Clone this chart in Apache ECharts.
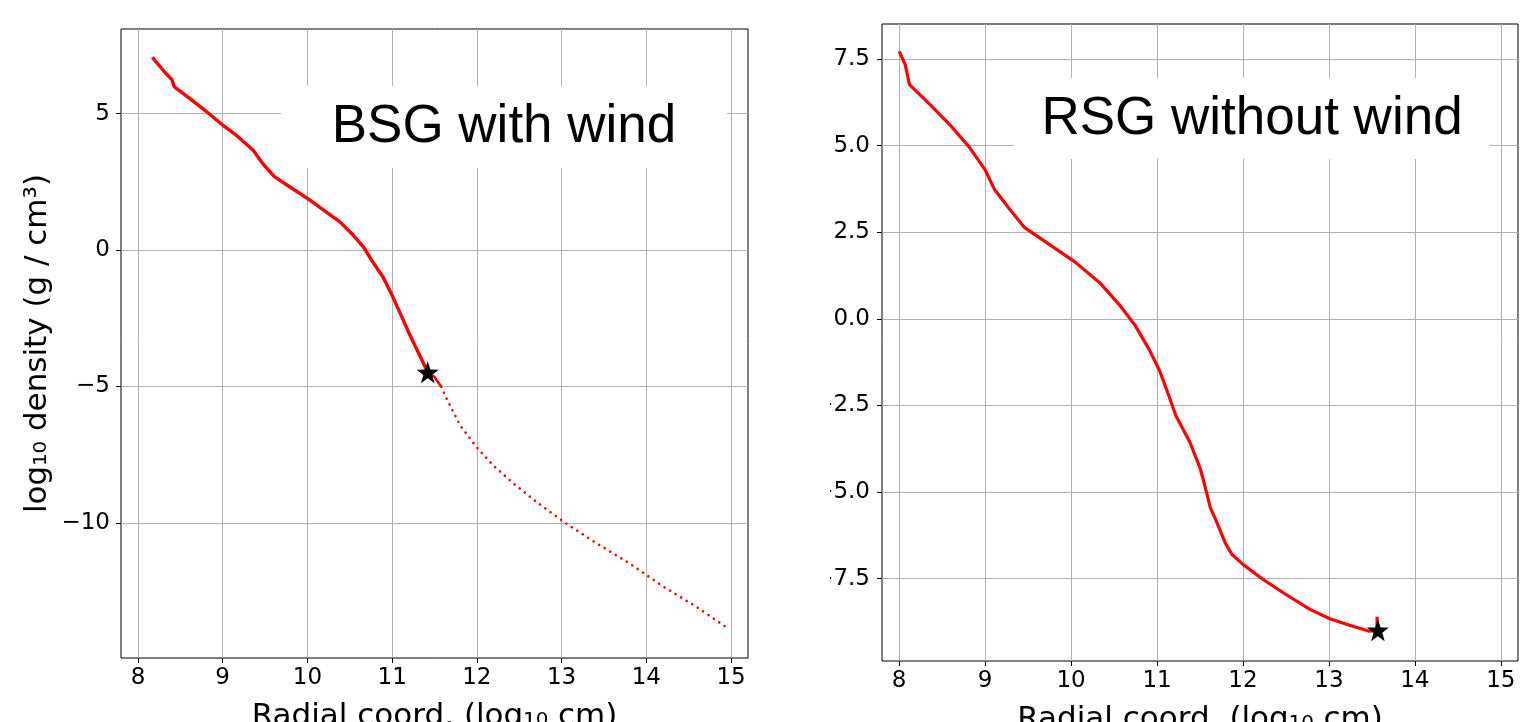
<!DOCTYPE html>
<html>
<head>
<meta charset="utf-8">
<script src="https://cdn.jsdelivr.net/npm/echarts@6/dist/echarts.min.js"></script>
<style>
  html, body { margin: 0; padding: 0; background: #fff; }
  #chart { width: 1521px; height: 722px; }
</style>
</head>
<body>
<div id="chart"></div>
<script>
// BSG with wind: stellar part (solid) and wind part (dotted)
var bsgX = [8.17, 8.33, 8.40, 8.43, 8.61, 8.81, 9.00, 9.16, 9.36, 9.47, 9.61, 9.79, 10.03, 10.22, 10.38, 10.54, 10.66, 10.77, 10.89, 10.99, 11.10, 11.20, 11.30, 11.42]
var bsgY = [7.06, 6.47, 6.25, 5.98, 5.56, 5.07, 4.58, 4.21, 3.66, 3.18, 2.69, 2.32, 1.83, 1.40, 1.04, 0.55, 0.12, -0.43, -0.98, -1.59, -2.35, -3.05, -3.70, -4.48]
var windX = [11.42, 11.50, 11.58, 11.64, 11.70, 11.80, 11.99, 12.19, 12.43, 12.70, 13.02, 13.41, 13.80, 14.20, 14.59, 14.98]
var windY = [-4.48, -4.65, -5.01, -5.43, -5.80, -6.41, -7.20, -7.88, -8.55, -9.22, -9.95, -10.74, -11.48, -12.33, -13.07, -13.90]
var bsgStar = [11.42, -4.48]

// RSG without wind
var rsgX = [8.00, 8.07, 8.12, 8.36, 8.59, 8.82, 9.00, 9.11, 9.29, 9.46, 9.75, 10.04, 10.33, 10.56, 10.74, 10.91, 11.03, 11.12, 11.22, 11.38, 11.50, 11.56, 11.62, 11.69, 11.79, 11.87, 12.00, 12.23, 12.50, 12.78, 13.01, 13.24, 13.47, 13.56, 13.56]
var rsgY = [7.72, 7.34, 6.76, 6.18, 5.60, 4.94, 4.30, 3.73, 3.15, 2.63, 2.14, 1.65, 1.05, 0.41, -0.17, -0.89, -1.50, -2.10, -2.80, -3.55, -4.30, -4.85, -5.45, -5.84, -6.45, -6.80, -7.09, -7.52, -7.96, -8.39, -8.66, -8.85, -9.02, -9.00, -8.60]
var rsgStar = [13.57, -8.99]

// tick values
var xTicks = [8, 9, 10, 11, 12, 13, 14, 15]
var leftYTicks = [-10, -5, 0, 5]
var rightYTicks = [-7.5, -5, -2.5, 0, 2.5, 5, 7.5]

function pairs (xs, ys) {
  return xs.map(function (x, i) { return [x, ys[i]] })
}
function minus (s) { return s.replace('-', '\u2212') }

var starPath = 'path://M0,-10L2.35,-3.24L9.51,-3.09L3.8,1.24L5.88,8.09L0,4L-5.88,8.09L-3.8,1.24L-9.51,-3.09L-2.35,-3.24Z'
var tickFont = { fontFamily: 'DejaVu Sans', fontSize: 23, color: '#000' }
var nameFont = { fontFamily: 'DejaVu Sans', fontSize: 31, color: '#000' }
var grey = { color: '#b0b0b0', width: 1 }

function xAxisOf (idx) {
  return {
    gridIndex: idx,
    type: 'value',
    min: 7.8,
    max: 15.2,
    name: 'Radial coord. (log\u2081\u2080 cm)',
    nameLocation: 'middle',
    nameGap: 43,
    nameTextStyle: nameFont,
    axisLine: { show: false, onZero: false },
    axisTick: { show: true, length: 5, customValues: xTicks, lineStyle: { color: '#000' } },
    axisLabel: Object.assign({ margin: 9, customValues: xTicks, formatter: function (v) { return String(v) } }, tickFont),
    splitLine: { show: true, lineStyle: grey }
  }
}

var myChart = echarts.init(document.getElementById('chart'))
myChart.setOption({
  animation: false,
  backgroundColor: '#fff',
  grid: [
    { left: 121, top: 29, width: 627, height: 629, show: true, borderColor: '#000', borderWidth: 1, containLabel: false, outerBoundsMode: 'none' },
    { left: 882, top: 24, width: 636, height: 637, show: true, borderColor: '#000', borderWidth: 1, containLabel: false, outerBoundsMode: 'none' }
  ],
  xAxis: [xAxisOf(0), xAxisOf(1)],
  yAxis: [
    {
      gridIndex: 0,
      type: 'value',
      min: -14.95,
      max: 8.1,
      name: 'log\u2081\u2080 density (g / cm\u00b3)',
      nameLocation: 'middle',
      nameRotate: 90,
      nameGap: 68,
      nameTextStyle: nameFont,
      axisLine: { show: false, onZero: false },
      axisTick: { show: true, length: 5, customValues: leftYTicks, lineStyle: { color: '#000' } },
      axisLabel: Object.assign({ margin: 11, customValues: leftYTicks, formatter: function (v) { return minus(String(v)) } }, tickFont),
      splitLine: { show: true, lineStyle: grey }
    },
    {
      gridIndex: 1,
      type: 'value',
      min: -9.88,
      max: 8.51,
      axisLine: { show: false, onZero: false },
      axisTick: { show: true, length: 5, customValues: rightYTicks, lineStyle: { color: '#000' } },
      axisLabel: Object.assign({ margin: 12, customValues: rightYTicks, formatter: function (v) { return minus(v.toFixed(1)) } }, tickFont),
      splitLine: { show: true, lineStyle: grey }
    }
  ],
  series: [
    {
      type: 'line', xAxisIndex: 0, yAxisIndex: 0, showSymbol: false,
      data: pairs(bsgX, bsgY),
      lineStyle: { color: '#ff0000', width: 3.4 }
    },
    {
      type: 'line', xAxisIndex: 0, yAxisIndex: 0, showSymbol: false,
      data: pairs(windX.slice(0, 3), windY.slice(0, 3)),
      lineStyle: { color: '#ff0000', width: 2.6 }
    },
    {
      type: 'line', xAxisIndex: 0, yAxisIndex: 0, showSymbol: false,
      data: pairs(windX.slice(2), windY.slice(2)),
      lineStyle: { color: '#ff0000', width: 2.6, type: [0.1, 6.4], cap: 'round' }
    },
    {
      type: 'scatter', xAxisIndex: 0, yAxisIndex: 0,
      data: [bsgStar], symbol: starPath, symbolSize: 22,
      itemStyle: { color: '#000', opacity: 1 }, z: 5
    },
    {
      type: 'line', xAxisIndex: 1, yAxisIndex: 1, showSymbol: false,
      data: pairs(rsgX, rsgY),
      lineStyle: { color: '#ff0000', width: 3.2 }
    },
    {
      type: 'scatter', xAxisIndex: 1, yAxisIndex: 1,
      data: [rsgStar], symbol: starPath, symbolSize: 22,
      itemStyle: { color: '#000', opacity: 1 }, z: 5
    }
  ],
  graphic: [
    // label boxes
    { type: 'rect', z: 100, shape: { x: 281, y: 86, width: 446, height: 82 }, style: { fill: '#fff' } },
    { type: 'text', z: 101, x: 504, y: 127.6, style: { text: 'BSG with wind', fontFamily: 'Liberation Sans, Arial', fontSize: 53, fill: '#000', align: 'center', verticalAlign: 'middle' } },
    { type: 'rect', z: 100, shape: { x: 1014, y: 78, width: 475, height: 81 }, style: { fill: '#fff' } },
    { type: 'text', z: 101, x: 1252, y: 119.8, style: { text: 'RSG without wind', fontFamily: 'Liberation Sans, Arial', fontSize: 53, fill: '#000', align: 'center', verticalAlign: 'middle' } },
    // the right panel is cropped on its left side
    { type: 'rect', z: 100, shape: { x: 752, y: 0, width: 78, height: 722 }, style: { fill: '#fff' } }
  ]
})
</script>
</body>
</html>
